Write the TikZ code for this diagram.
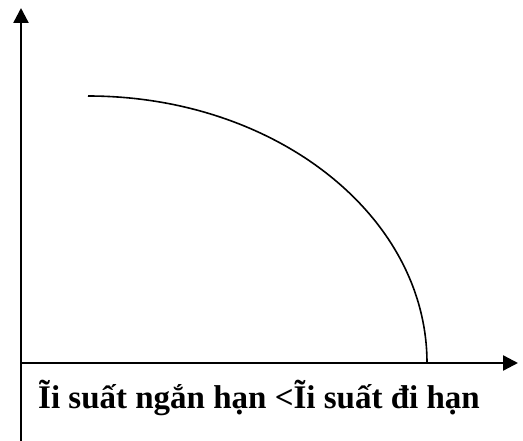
\documentclass[tikz,border=0pt]{standalone}
\usepackage{fontspec}
\setmainfont{Liberation Serif}
\usetikzlibrary{arrows.meta}
\begin{document}
\begin{tikzpicture}[x=1pt, y=1pt, line join = round, >={Triangle[length=15pt,width=15pt]}]
\useasboundingbox (0,0) rectangle (523,-441);
\def\ox{21}     \def\oy{-363}
\def\xmax{518}  \def\ymax{-8}
\coordinate (O) at (\ox,\oy);
\coordinate (ybot) at (\ox,-441);
\coordinate (ytop) at (\ox,\ymax);
\coordinate (xend) at (\xmax,\oy);
\draw[->, line width=2.4pt] (ybot)--(ytop);
\draw[->, line width=2.4pt] (O)--(xend);
% duong cong
\coordinate (A) at (88,-96);
\draw[line width=1.6pt] (A) arc[start angle=90, end angle=0, x radius=339, y radius=267] coordinate (B);
\node[anchor=base west, inner sep=0pt, font=\bfseries\fontsize{33}{38}\selectfont] (lbl) at (38,-409) {Ĩi suất ngắn hạn <Ĩi suất đi hạn};
\end{tikzpicture}
\end{document}
